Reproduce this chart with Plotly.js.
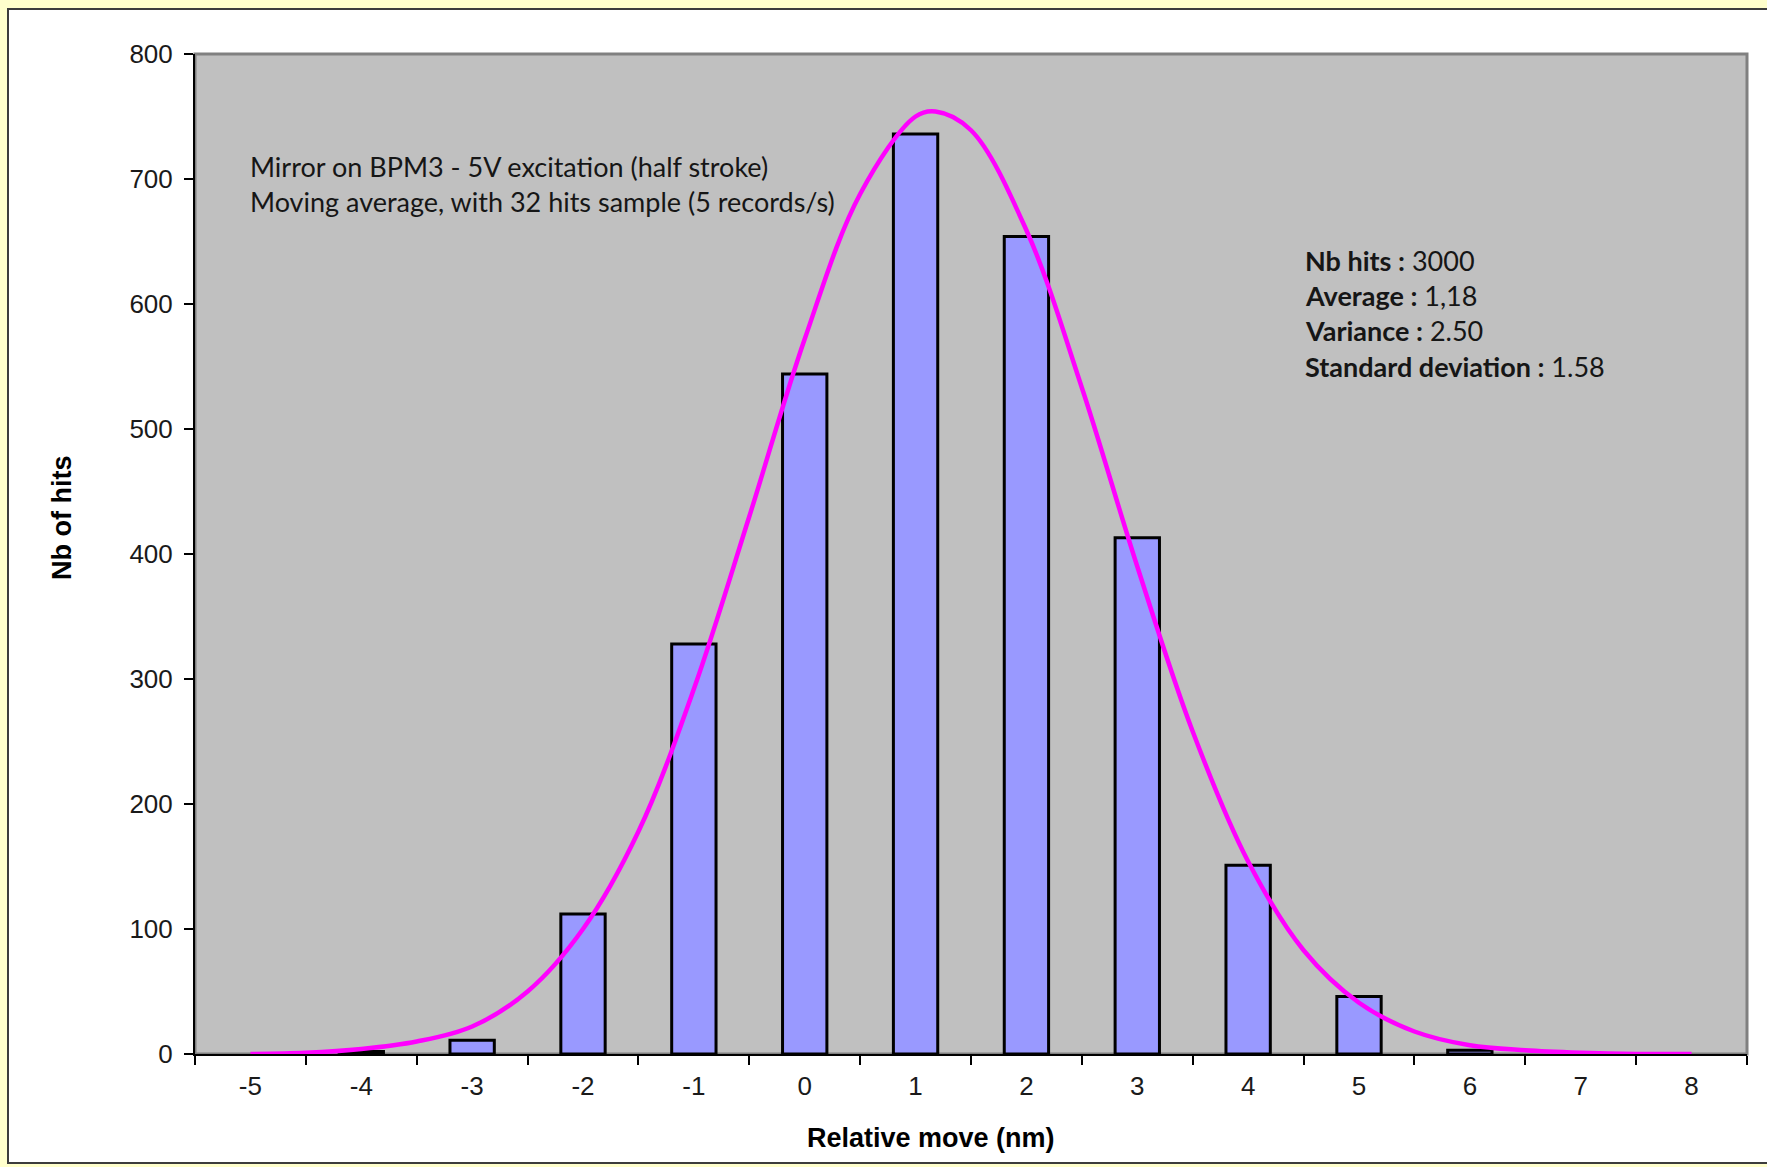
<!DOCTYPE html>
<html>
<head>
<meta charset="utf-8">
<script src="https://cdn.plot.ly/plotly-3.0.1.min.js"></script>
<style>
  html, body { margin: 0; padding: 0; overflow: hidden; background: #FFFFCC; width: 1767px; height: 1167px; }
  #frame { position: absolute; left: 7px; top: 8px; width: 1770px; height: 1152px; border: 2px solid #3c3c3c; background: #ffffff; }
  #chart { width: 1770px; height: 1152px; }
</style>
</head>
<body>
<div id="frame"><div id="chart"></div></div>
<script>
// Histogram categories (relative move, nm) and hit counts
const categories = ["-5", "-4", "-3", "-2", "-1", "0", "1", "2", "3", "4", "5", "6", "7", "8"];
const hits = [null, 2, 11, 112, 328, 544, 736, 654, 413, 151, 46, 3, null, null];

// Fitted curve points
const curveX = [-5, -4.5, -4, -3.5, -3, -2.5, -2, -1.5, -1, -0.5, 0, 0.5, 1, 1.18, 1.5, 2, 2.5, 3, 3.5, 4, 4.5, 5, 5.5, 6, 6.5, 7, 7.5, 8];
const curveY = [0, 1, 4, 10, 22, 50, 100, 178, 292, 430, 572, 688, 750, 754, 739, 659, 533, 390, 258, 154, 83, 41, 18, 7, 3, 1, 0, 0];

const xTitle = "Relative move (nm)";
const yTitle = "Nb of hits";
const noteLines = [
  "Mirror on BPM3 - 5V excitation (half stroke)",
  "Moving average, with 32 hits sample (5 records/s)"
];
const statLabels = ["Nb hits :", "Average :", "Variance :", "Standard deviation :"];
const statValues = ["3000", "1,18", "2.50", "1.58"];

const textFont = "Lato, 'Open Sans', sans-serif";
const axisFont = "'Liberation Sans', Arial, sans-serif";

const traces = [
  {
    type: "bar",
    x: categories,
    y: hits,
    width: 0.4,
    marker: { color: "#9999FF", line: { color: "#000000", width: 3 } },
    xaxis: "x",
    yaxis: "y",
    hoverinfo: "x+y",
    showlegend: false
  },
  {
    type: "scatter",
    mode: "lines",
    x: curveX,
    y: curveY,
    line: { color: "#FF00FF", width: 4.5, shape: "spline", smoothing: 1 },
    xaxis: "x2",
    yaxis: "y",
    showlegend: false
  }
];

const annotations = [];
const noteY = [710, 682];
noteLines.forEach((t, i) => {
  annotations.push({
    xref: "x2", yref: "y", x: -5.02, y: noteY[i],
    xanchor: "left", yanchor: "middle", showarrow: false,
    text: t, font: { family: textFont, size: 27, color: "#161616" }
  });
});
const statY = [635, 607, 579, 550];
statLabels.forEach((t, i) => {
  annotations.push({
    xref: "x2", yref: "y", x: 4.494, y: statY[i],
    xanchor: "left", yanchor: "middle", showarrow: false,
    text: "<b>" + t + "</b> " + statValues[i],
    font: { family: textFont, size: 27, color: "#161616" }
  });
});
// axis titles
annotations.push({
  xref: "paper", yref: "paper", x: -0.0857, y: 0.536,
  xanchor: "center", yanchor: "middle", showarrow: false, textangle: -90,
  text: "<b>" + yTitle + "</b>", font: { family: axisFont, size: 27, color: "#000000" }
});
annotations.push({
  xref: "paper", yref: "paper", x: 0.474, y: -0.084,
  xanchor: "center", yanchor: "middle", showarrow: false,
  text: "<b>" + xTitle + "</b>", font: { family: axisFont, size: 27, color: "#000000" }
});

const layout = {
  width: 1770,
  height: 1152,
  margin: { l: 186, r: 32, t: 44, b: 108 },
  paper_bgcolor: "#ffffff",
  plot_bgcolor: "#C0C0C0",
  showlegend: false,
  xaxis: {
    type: "category",
    range: [-0.5, 13.5],
    tickson: "boundaries",
    ticks: "outside",
    ticklen: 9,
    tickwidth: 2,
    tickcolor: "#000000",
    showline: true,
    linecolor: "#000000",
    linewidth: 2,
    showgrid: false,
    zeroline: false,
    tickfont: { family: axisFont, size: 26, color: "#1a1a1a" },
    ticklabelstandoff: 8,
    fixedrange: true
  },
  xaxis2: {
    overlaying: "x",
    range: [-5.5, 8.5],
    visible: false,
    fixedrange: true
  },
  yaxis: {
    range: [0, 800],
    dtick: 100,
    ticks: "outside",
    ticklen: 9,
    tickwidth: 2,
    tickcolor: "#000000",
    showline: true,
    linecolor: "#000000",
    linewidth: 2,
    showgrid: false,
    zeroline: false,
    tickfont: { family: axisFont, size: 26, color: "#1a1a1a" },
    ticklabelstandoff: 6,
    fixedrange: true
  },
  shapes: [
    {
      type: "rect", xref: "paper", yref: "paper", x0: 0, x1: 1, y0: 0, y1: 1,
      line: { color: "#808080", width: 3 }, layer: "below"
    }
  ],
  annotations: annotations
};

Plotly.newPlot("chart", traces, layout, { displayModeBar: false, staticPlot: true });
</script>
</body>
</html>
